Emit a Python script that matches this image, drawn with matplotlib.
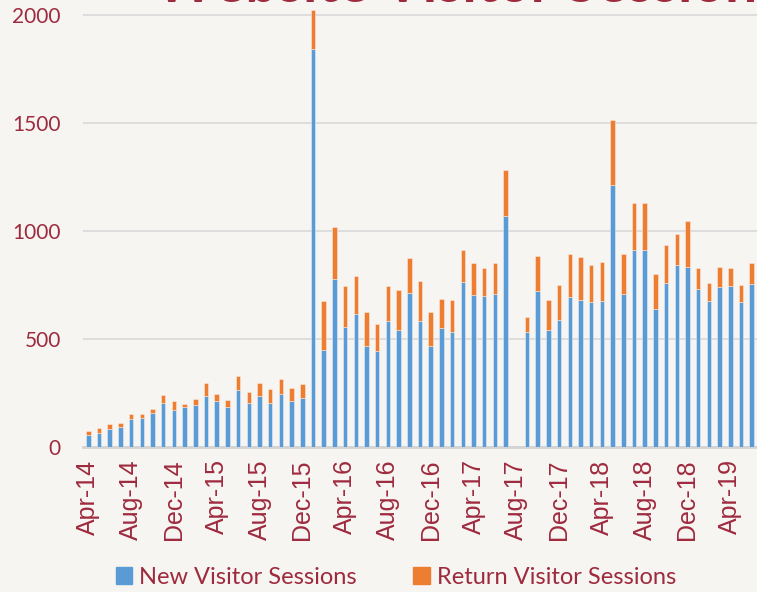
import matplotlib
matplotlib.use("Agg")
import matplotlib.pyplot as plt
from matplotlib.patches import Patch
import pandas as pd

# monthly sessions, Apr-2014 .. Jun-2019 (Aug-17 has no data)
months = pd.date_range("2014-04-01", periods=63, freq="MS").strftime("%b-%y").tolist()
new_sessions = [54, 63, 82, 91, 130, 134, 159, 202, 171, 184, 193, 238, 211, 184, 262,
                202, 235, 202, 244, 212, 226, 1841, 451, 779, 557, 616, 469, 444, 585,
                543, 711, 583, 469, 549, 534, 765, 705, 698, 710, 1070, 0, 531, 721,
                543, 586, 694, 679, 673, 677, 1213, 708, 914, 914, 639, 758, 844, 832,
                731, 677, 741, 747, 673, 753]
return_sessions = [22, 25, 24, 22, 24, 20, 18, 37, 43, 15, 29, 57, 34, 34, 67, 51, 60,
                   65, 73, 60, 66, 181, 225, 241, 190, 174, 154, 125, 162, 184, 166,
                   184, 154, 136, 145, 147, 147, 131, 140, 210, 0, 71, 163, 136, 164,
                   201, 199, 171, 181, 299, 187, 216, 216, 160, 179, 144, 214, 96, 84,
                   92, 83, 77, 97]

red = "#9e2a3e"
blue = "#5b9bd5"
orange = "#ed7d31"
bg = "#f7f5f1"

fig = plt.figure(figsize=(7.57, 5.92), dpi=100, facecolor=bg)
ax = fig.add_axes([83 / 757, 1 - 447 / 592, 1 - 83 / 757, 447 / 592])
ax.set_facecolor(bg)

x = list(range(len(months)))
ax.bar(x, new_sessions, width=0.42, color=blue, edgecolor=(1, 1, 1, 0.45), linewidth=0.6,
       zorder=3, label="New Visitor Sessions")
ax.bar(x, return_sessions, width=0.42, bottom=new_sessions, color=orange,
       edgecolor=(1, 1, 1, 0.45), linewidth=0.6, zorder=3, label="Return Visitor Sessions")

ax.set_xlim(-0.5, 62.5)
ax.set_ylim(0, 2069)
ax.set_yticks([0, 500, 1000, 1500, 2000])
ax.grid(axis="y", color="#d9d9d9", linewidth=1.2, zorder=0)
for s in ["left", "right", "top"]:
    ax.spines[s].set_visible(False)
ax.spines["bottom"].set_color("#d4d4d4")
ax.spines["bottom"].set_linewidth(2)

ax.set_xticks(x[::4])
ax.set_xticklabels(months[::4], rotation=90, fontsize=18, color=red,
                   fontfamily="Liberation Sans")
ax.tick_params(axis="x", length=0, pad=9)
ax.tick_params(axis="y", length=0, pad=16, labelsize=15, labelcolor=red)
for t in ax.get_yticklabels():
    t.set_fontfamily("Lato")

# title sits mostly above the visible area, as in the cropped original
fig.text(155 / 757, 1 - 1.5 / 592, "Website Visitor Sessions", ha="left", va="baseline",
         fontsize=41, fontweight="bold", color=red, fontfamily="Lato")

handles = [Patch(color=blue), Patch(color=orange)]
fig.legend(handles, ["New Visitor Sessions", "Return Visitor Sessions"],
           loc="center", bbox_to_anchor=(0.523, 1 - 577 / 592), ncol=2, frameon=False,
           handlelength=0.7, handleheight=0.7, handletextpad=0.3, columnspacing=2.4,
           prop={"family": "Lato", "size": 17}, labelcolor=red)

fig.savefig("out.png", dpi=100, facecolor=bg)
